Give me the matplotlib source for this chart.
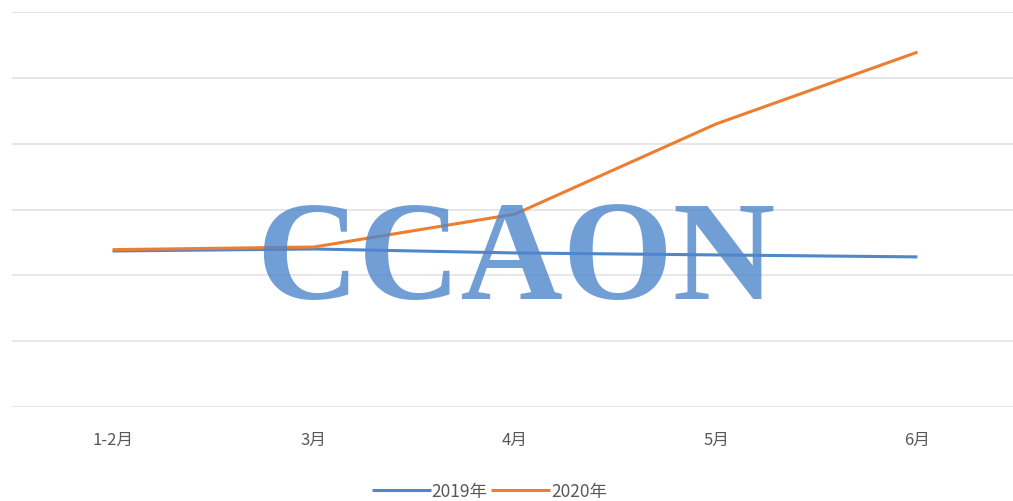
import numpy as np
from matplotlib import pyplot as plt

plt.rcParams['font.family'] = ['Noto Sans CJK SC', 'DejaVu Sans']

months = ['1-2月', '3月', '4月', '5月', '6月']
y2019 = [2.37, 2.40, 2.34, 2.31, 2.28]
y2020 = [2.39, 2.43, 2.93, 4.30, 5.39]

fig = plt.figure(figsize=(10.13, 5.02), dpi=100)
ax = fig.add_axes([12/1013, 94/502, 1006/1013, 395/502])

x = np.arange(len(months))
ax.plot(x, y2019, color='#4f87c9', lw=2.2, label='2019年', solid_capstyle='butt')
ax.plot(x, y2020, color='#ed7d31', lw=2.2, label='2020年', solid_capstyle='butt')

ax.set_xlim(-0.5, 4.5)
ax.set_ylim(0, 6)
ax.set_yticks(np.arange(0, 7, 1))
ax.yaxis.grid(True, color='#e3e3e3', lw=1.2)
ax.set_axisbelow(True)
ax.tick_params(axis='y', left=False, labelleft=False)
ax.tick_params(axis='x', length=0, pad=17, labelsize=12, labelcolor='#595959')
ax.set_xticks(x)
ax.set_xticklabels(months)
for s in ax.spines.values():
    s.set_visible(False)

# watermark
fig.text(0.509, 0.404, 'CCAON', fontsize=102, fontweight='bold',
         family=['Liberation Serif', 'DejaVu Serif'],
         color='#4f86cc', alpha=0.8, ha='center', va='baseline', zorder=10)

leg = fig.legend(loc='lower center', bbox_to_anchor=(0.483, -0.03), ncol=2,
                 frameon=False, fontsize=12.5, handlelength=3.4,
                 columnspacing=0.2, handletextpad=0.05)
for t in leg.get_texts():
    t.set_color('#595959')

fig.savefig('out.png', dpi=100)
